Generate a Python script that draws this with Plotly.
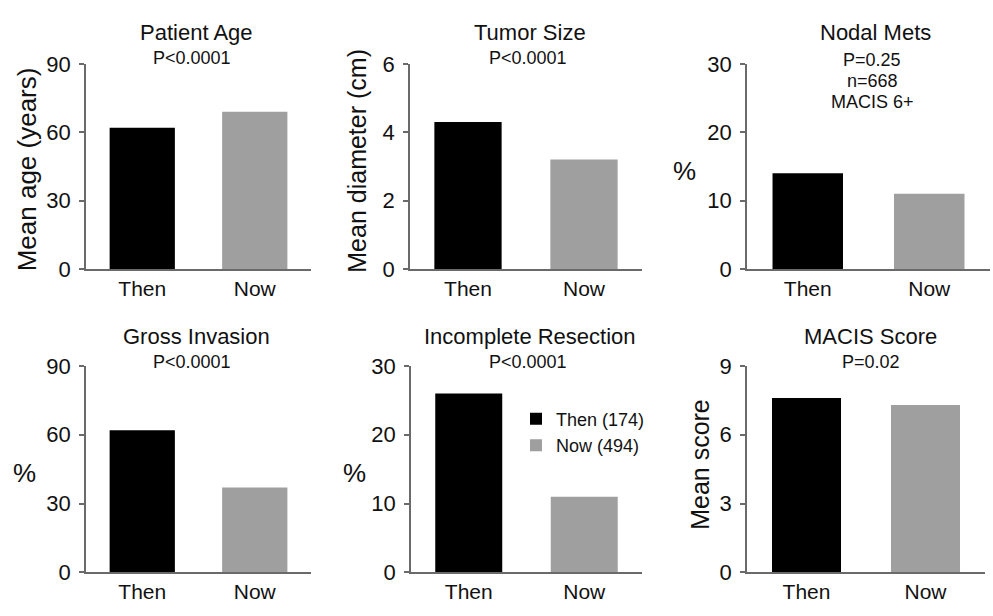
import plotly.graph_objects as go

W, H = 993, 616
FONT = "Liberation Sans, Arial, Helvetica, sans-serif"
TXT = "#111111"
AX = "#6a6a6a"

categories = ["Then", "Now"]
legend_names = ["Then (174)", "Now (494)"]
bar_colors = ["#000000", "#9f9f9f"]

titles = ["Patient Age", "Tumor Size", "Nodal Mets",
          "Gross Invasion", "Incomplete Resection", "MACIS Score"]
pvalues = [["P<0.0001"], ["P<0.0001"], ["P=0.25", "n=668", "MACIS 6+"],
           ["P<0.0001"], ["P<0.0001"], ["P=0.02"]]
ytitles = ["Mean age (years)", "Mean diameter (cm)", "%", "%", "%", "Mean score"]

then_values = [62, 4.3, 14, 62, 26, 7.6]
now_values = [69, 3.2, 11, 37, 11, 7.3]
y_max = [90, 6, 30, 90, 30, 9]
y_dtick = [30, 2, 10, 30, 10, 3]

# layout geometry (pixels)
x_dom_px = [(86, 311), (410, 642), (747, 990), (86, 311), (411, 642), (747, 985)]
y_dom_px = [(54, 268), (54, 268), (54, 268), (369, 584), (369, 584), (369, 584)]
title_y_px = [21, 21, 21, 338, 338, 338]
title_x_px = [196, 530, 875, 196, 530, 870]
pval_y_px = [[48], [48], [50, 72, 94], [365], [365], [365]]
pval_x_px = [192, 528, 872, 192, 528, 871]
ytitle_pos_px = [(27, 164), (357, 155), (684, 166), (24, 480), (354, 480), (700, 472)]
ytitle_size = [26, 25, 26, 26, 26, 25]

def px_x(v):
    return v / W

def px_y(v):
    return 1 - v / H

fig = go.Figure()
annotations = []

for i in range(6):
    ax = "" if i == 0 else str(i + 1)
    xref = "x" + ax
    yref = "y" + ax
    for j, cat in enumerate(categories):
        fig.add_trace(go.Bar(
            x=[cat], y=[[then_values[i], now_values[i]][j]],
            xaxis=xref, yaxis=yref,
            marker=dict(color=bar_colors[j], line=dict(width=0)),
            width=0.58,
            name=legend_names[j],
            showlegend=(i == 4),
            hoverinfo="skip",
        ))
    x0, x1 = x_dom_px[i]
    y0, y1 = y_dom_px[i]
    fig.layout["xaxis" + ax] = dict(
        domain=[px_x(x0), px_x(x1)], anchor=yref,
        type="category", range=[-0.5, 1.5],
        showline=True, linecolor=AX, linewidth=1.5,
        ticks="", showgrid=False, zeroline=False,
        tickfont=dict(family=FONT, size=21, color=TXT),
        fixedrange=True,
    )
    fig.layout["yaxis" + ax] = dict(
        domain=[px_y(y1), px_y(y0)], anchor=xref,
        range=[0, y_max[i]], tick0=0, dtick=y_dtick[i],
        showline=True, linecolor=AX, linewidth=1.5,
        ticks="outside", ticklen=5, tickwidth=1.5, tickcolor=AX,
        ticklabelstandoff=4,
        showgrid=False, zeroline=False,
        tickfont=dict(family=FONT, size=22, color=TXT),
        fixedrange=True,
    )
    annotations.append(dict(
        text=titles[i], x=px_x(title_x_px[i]), y=px_y(title_y_px[i]),
        xref="paper", yref="paper", showarrow=False,
        xanchor="center", yanchor="middle",
        font=dict(family=FONT, size=22, color=TXT),
    ))
    for k, line in enumerate(pvalues[i]):
        annotations.append(dict(
            text=line, x=px_x(pval_x_px[i]), y=px_y(pval_y_px[i][k]),
            xref="paper", yref="paper", showarrow=False,
            xanchor="center", yanchor="middle",
            font=dict(family=FONT, size=18, color=TXT),
        ))
    tx, ty = ytitle_pos_px[i]
    rotated = ytitles[i] != "%"
    annotations.append(dict(
        text=ytitles[i], x=px_x(tx), y=px_y(ty),
        xref="paper", yref="paper", showarrow=False,
        xanchor="center", yanchor="middle",
        textangle=-90 if rotated else 0,
        font=dict(family=FONT, size=ytitle_size[i], color=TXT),
    ))

fig.update_layout(
    width=W, height=H,
    margin=dict(l=0, r=0, t=0, b=0),
    paper_bgcolor="white", plot_bgcolor="white",
    annotations=annotations,
    showlegend=True,
    legend=dict(
        x=px_x(516), y=px_y(405), xanchor="left", yanchor="top",
        bgcolor="rgba(0,0,0,0)",
        font=dict(family=FONT, size=18, color=TXT),
        tracegroupgap=0, itemclick=False, itemdoubleclick=False,
    ),
    barmode="overlay",
)

fig.write_html("out.html")
